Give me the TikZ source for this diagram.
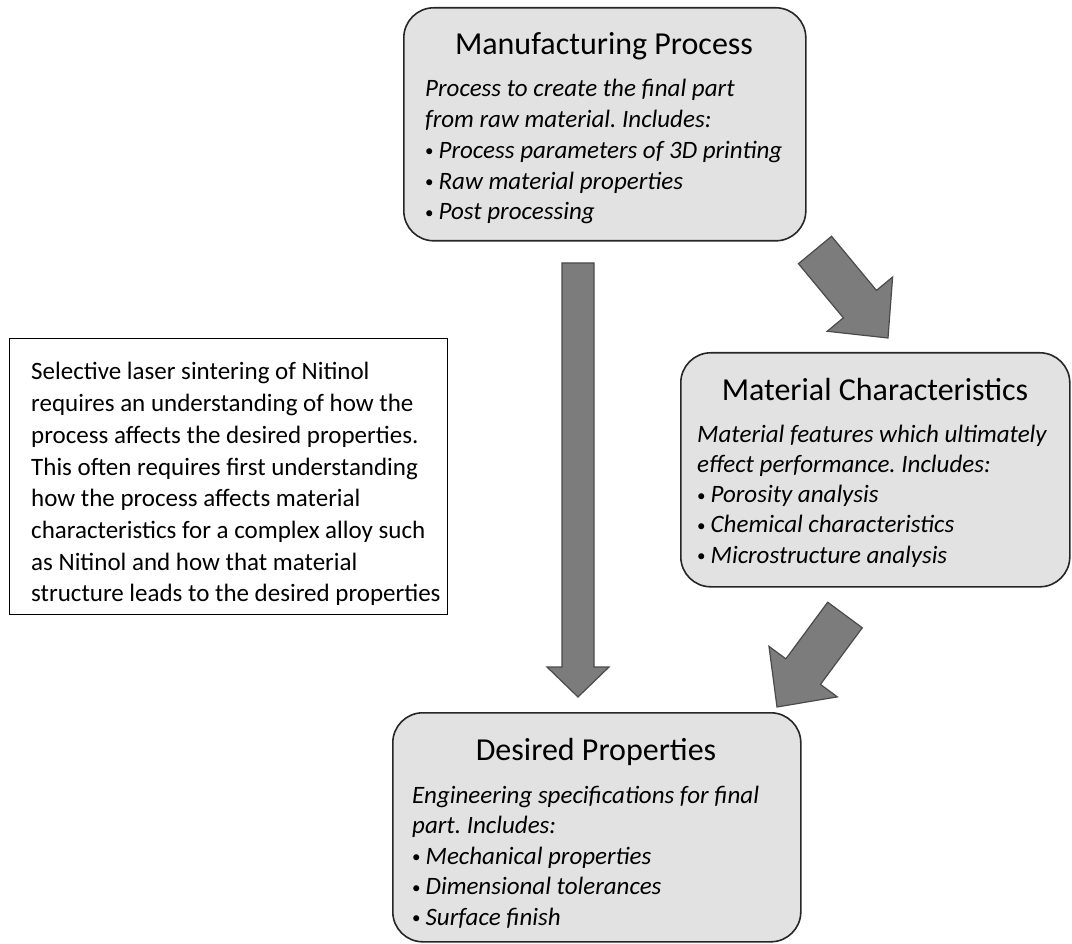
\documentclass[tikz,border=0pt]{standalone}
\usepackage{fontspec}
\setmainfont{Carlito}
\usetikzlibrary{calc}
\frenchspacing
\definecolor{boxfill}{HTML}{E2E2E2}
\definecolor{arrowfill}{HTML}{7C7C7C}
\definecolor{arrowline}{HTML}{4A4A4A}
\tikzset{
  roundbox/.style={draw=black!85, line width=1.6pt, fill=boxfill, rounded corners=30pt,
    inner sep=0pt, anchor=north west},
  notebox/.style={draw=black, line width=1.4pt, fill=white, inner sep=0pt, anchor=north west},
  boxtitle/.style={font=\fontsize{32}{38}\selectfont, anchor=base, inner sep=0pt},
  boxline/.style={font=\fontsize{25}{30}\selectfont\itshape, anchor=base west, inner sep=0pt},
  noteline/.style={font=\fontsize{25}{30}\selectfont, anchor=base west, inner sep=0pt},
  blockarrow/.style={draw=arrowline, fill=arrowfill, line width=1.2pt, line join=miter},
}
% block arrow from tail #1 to tip #2: shaft half width #3, head half width #4, head length #5
\newcommand\drawblockarrow[5]{%
  \coordinate (#1-neck) at ($(#2)!#5!(#1)$);
  \draw[blockarrow] ($(#1)!#3!90:(#2)$) -- ($(#1-neck)!#3!90:(#2)$)
    -- ($(#1-neck)!#4!90:(#2)$) -- (#2) -- ($(#1-neck)!#4!-90:(#2)$)
    -- ($(#1-neck)!#3!-90:(#2)$) -- ($(#1)!#3!-90:(#2)$) -- cycle;
}
% small list bullet followed by the item text
\newcommand\bul{{\upshape\fontsize{17}{17}\selectfont\raisebox{1.5pt}{\textbullet}}\hspace{5pt}}
\begin{document}
\begin{tikzpicture}[x=1pt, y=-1pt]
\useasboundingbox (0,0) rectangle (1072,944);

% ---- boxes ----
\node[roundbox, minimum width=402pt, minimum height=233pt] (mfg) at (403,7) {};
\node[roundbox, minimum width=389pt, minimum height=234pt] (mat) at (680,352) {};
\node[roundbox, minimum width=408pt, minimum height=229pt] (des) at (392,712) {};
\node[notebox, minimum width=438pt, minimum height=276pt] (note) at (9,338) {};

% ---- manufacturing process ----
\node[boxtitle] (mfg-t) at (604,55) {Manufacturing Process};
\foreach \t [count=\i from 0] in {Process to create the final part,
    from raw material. Includes:,
    \bul Process parameters of 3D printing,
    \bul Raw material properties,
    \bul Post processing}
  \node[boxline] (mfg-l\i) at (425,97+30.7*\i) {\t};

% ---- material characteristics ----
\node[boxtitle] (mat-t) at (875,400) {Material Characteristics};
\foreach \t [count=\i from 0] in {Material features which ultimately,
    effect performance. Includes:,
    \bul Porosity analysis,
    \bul Chemical characteristics,
    \bul Microstructure analysis}
  \node[boxline] (mat-l\i) at (697,442+30.3*\i) {\t};

% ---- desired properties ----
\node[boxtitle] (des-t) at (596,760) {Desired Properties};
\foreach \t [count=\i from 0] in {Engineering specifications for final,
    part. Includes:,
    \bul Mechanical properties,
    \bul Dimensional tolerances,
    \bul Surface finish}
  \node[boxline] (des-l\i) at (412,803+30.5*\i) {\t};

% ---- explanatory note ----
\foreach \t [count=\i from 0] in {Selective laser sintering of Nitinol,
    requires an understanding of how the,
    process affects the desired properties.,
    This often requires first understanding,
    how the process affects material,
    characteristics for a complex alloy such,
    as Nitinol and how that material,
    structure leads to the desired properties}
  \node[noteline] (note-l\i) at (31,380+31.7*\i) {\t};

% ---- block arrows ----
\coordinate (a-mfg-des) at (578,263);
\coordinate (b-mfg-des) at (578,697);
\coordinate (a-mfg-mat) at (815,250);
\coordinate (b-mfg-mat) at (888,338);
\coordinate (a-mat-des) at (845,615);
\coordinate (b-mat-des) at (777,707);
\drawblockarrow{a-mfg-des}{b-mfg-des}{16pt}{31pt}{30pt}
\drawblockarrow{a-mfg-mat}{b-mfg-mat}{21.5pt}{42.5pt}{44pt}
\drawblockarrow{a-mat-des}{b-mat-des}{21.5pt}{42.5pt}{44pt}
\end{tikzpicture}
\end{document}
